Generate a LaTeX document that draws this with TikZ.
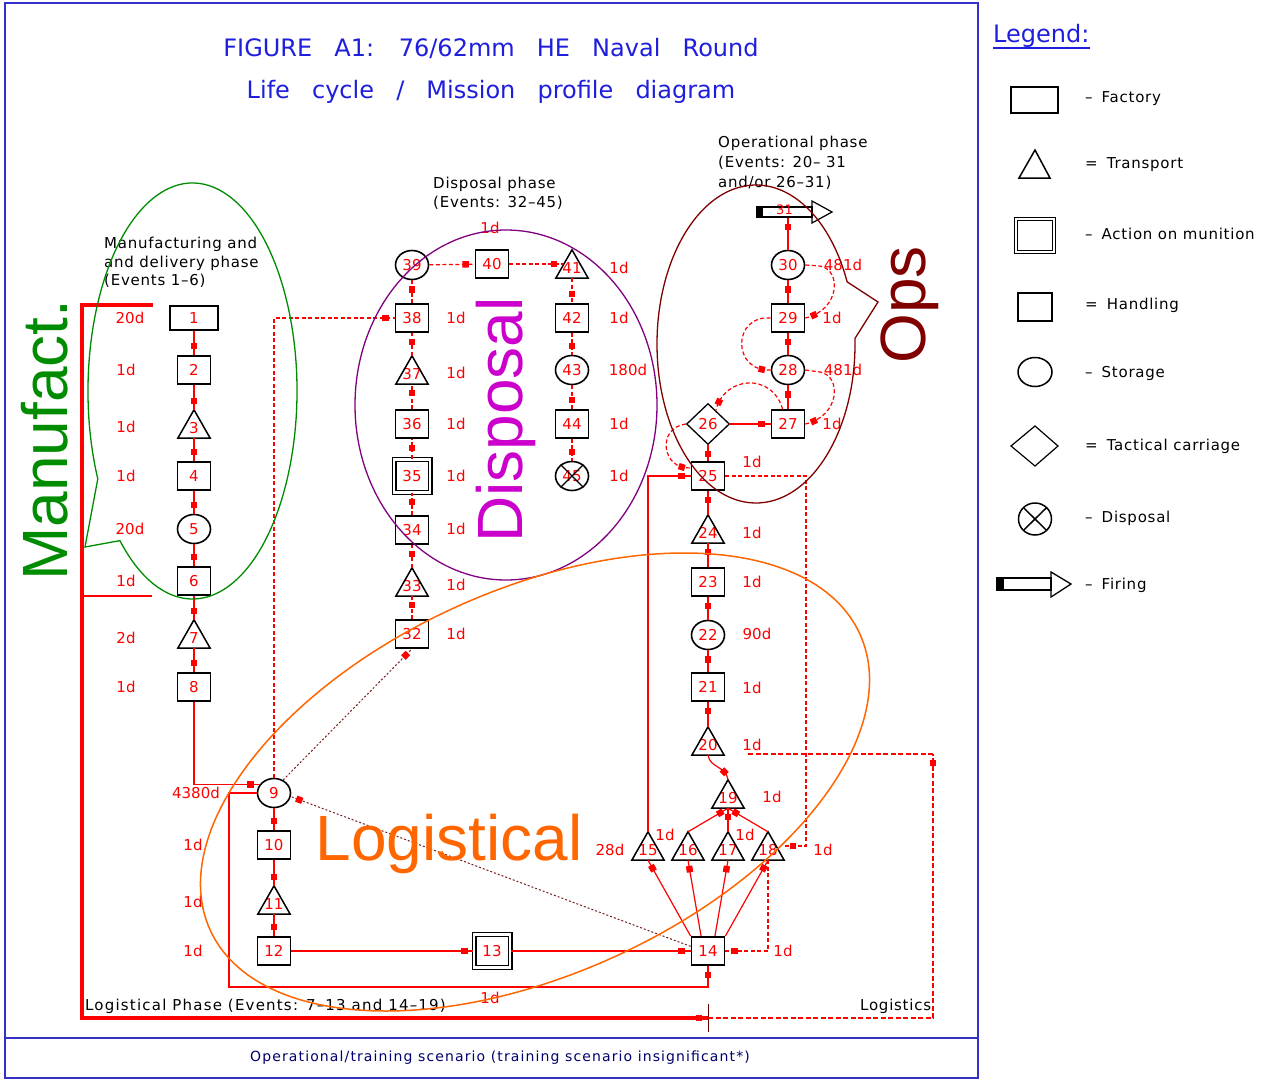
\documentclass[tikz,border=0pt]{standalone}
\usepackage{fontspec}
\setmainfont{DejaVu Sans}
\newfontfamily\arialf{Liberation Sans}
\newfontfamily\titlef[WordSpace=2.9]{DejaVu Sans}
\newfontfamily\cadf[LetterSpace=5]{DejaVu Sans}
\newfontfamily\cadw[LetterSpace=8]{DejaVu Sans}
\usetikzlibrary{shapes.geometric,decorations.markings}
\definecolor{frameblue}{RGB}{50,50,200}
\definecolor{titleblue}{RGB}{30,30,220}
\definecolor{mgreen}{RGB}{0,140,0}
\definecolor{dmag}{RGB}{204,0,204}
\definecolor{purp}{RGB}{128,0,128}
\definecolor{maroonc}{RGB}{128,0,0}
\definecolor{orng}{RGB}{255,102,0}
\definecolor{dotc}{RGB}{120,30,30}
\definecolor{navyc}{RGB}{0,0,110}
\begin{document}
\begin{tikzpicture}[x=1pt,y=-1pt,
  cad/.style={font=\fontsize{15}{18}\selectfont},
  num/.style={cad, text=red},
  box/.style={draw=black, line width=1.7pt, rectangle, minimum width=33, minimum height=28, inner sep=0, num},
  fac/.style={box, minimum width=48, minimum height=24},
  tri/.style={rectangle, minimum width=32, minimum height=28, inner sep=0, num, text height=18pt, text depth=0pt},
  sto/.style={ellipse, draw=black, line width=1.6pt, minimum width=33, minimum height=29, inner sep=0, num},
  act/.style={box, double, double distance=2.2pt, line width=1.4pt, minimum width=36, minimum height=33},
  dia/.style={diamond, draw=black, line width=1.3pt, minimum width=43, minimum height=41, inner sep=0, num},
  mk/.style={postaction=decorate, decoration={markings, mark=at position -9pt with {\fill[red] (-3.2,-3.2) rectangle (3.2,3.2);}}},
  conn/.style={draw=red, line width=1.2pt, mk},
  dconn/.style={conn, dash pattern=on 4pt off 2.5pt},
  dots/.style={draw=dotc, line width=1pt, dash pattern=on 2pt off 2pt, mk},
  big/.style={font=\arialf\fontsize{64}{64}\selectfont, inner sep=0},
  legt/.style={anchor=west, font=\cadf\fontsize{15}{18}\selectfont, inner sep=0},
  shp/.style={draw=black, line width=1.5pt}
]
\useasboundingbox (0,0) rectangle (1277,1081);
\fill[white] (0,0) rectangle (1277,1081);

% frame
\draw[frameblue, line width=2] (5,3) rectangle (978,1078);
\draw[frameblue, line width=2] (5,1038) -- (978,1038);

% titles
\node[text=titleblue, font=\titlef\fontsize{24}{24}\selectfont] (t1) at (491,48) {FIGURE A1: 76/62mm HE Naval Round};
\node[text=titleblue, font=\titlef\fontsize{24}{24}\selectfont] (t2) at (491,92) {Life cycle / Mission profile diagram};
\node[text=navyc, font=\cadw\fontsize{14}{14}\selectfont] (foot) at (500,1058) {Operational/training scenario (training scenario insignificant*)};

% phase texts
\node[anchor=north west, align=left, inner sep=0, font=\cadf\fontsize{15}{18.5}\selectfont] (ph1) at (104,237) {Manufacturing and\\and delivery phase\\(Events 1–6)};
\node[anchor=north west, align=left, inner sep=0, font=\cadf\fontsize{15}{18.5}\selectfont] (ph2) at (433,177) {Disposal phase\\(Events: 32–45)};
\node[anchor=north west, align=left, inner sep=0, font=\cadf\fontsize{15}{20}\selectfont] (ph3) at (718,136) {Operational phase\\(Events: 20– 31\\and/or 26–31)};
\node[anchor=base west, inner sep=0, font=\cadw\fontsize{15}{18}\selectfont] (ph4) at (85,1010) {Logistical Phase (Events: 7–13 and 14–19)};
\node[anchor=base west, inner sep=0, font=\cadf\fontsize{15}{18}\selectfont] (ph5) at (860,1010) {Logistics};

% manufacturing column
\node[fac] (n1) at (194,318) {1};
\node[box] (n2) at (194,370) {2};
\node[tri] (n3) at (194,424) {3};
\node[box] (n4) at (194,476) {4};
\node[sto] (n5) at (194,529) {5};
\node[box] (n6) at (194,581) {6};
\node[tri] (n7) at (194,634) {7};
\node[box] (n8) at (194,687) {8};
% logistical
\node[sto] (n9) at (274,793) {9};
\node[box] (n10) at (274,845) {10};
\node[tri] (n11) at (274,900) {11};
\node[box] (n12) at (274,951) {12};
\node[act] (n13) at (492,951) {13};
\node[box] (n14) at (708,951) {14};
\node[tri] (n15) at (648,846) {15};
\node[tri] (n16) at (688,846) {16};
\node[tri] (n17) at (728,846) {17};
\node[tri] (n18) at (768,846) {18};
\node[tri] (n19) at (728,794) {19};
% operational
\node[tri] (n20) at (708,741) {20};
\node[box] (n21) at (708,687) {21};
\node[sto] (n22) at (708,635) {22};
\node[box] (n23) at (708,582) {23};
\node[tri] (n24) at (708,529) {24};
\node[box] (n25) at (708,476) {25};
\node[dia] (n26) at (708,424) {26};
\node[box] (n27) at (788,424) {27};
\node[sto] (n28) at (788,370) {28};
\node[box] (n29) at (788,318) {29};
\node[sto] (n30) at (788,265) {30};
\node[draw=black, line width=1.4pt, minimum width=55, minimum height=10, inner sep=0, text=red, font=\fontsize{13}{13}\selectfont, text height=5pt, text depth=0pt] (n31) at (784.5,212) {31};
\fill[black] (757,207) rectangle (763,217);
\draw[shp, line width=1.2pt] (812,201) -- (832,212) -- (812,223) -- cycle;
% disposal
\node[box] (n32) at (412,634) {32};
\node[tri] (n33) at (412,582) {33};
\node[box] (n34) at (412,530) {34};
\node[act] (n35) at (412,476) {35};
\node[box] (n36) at (412,424) {36};
\node[tri] (n37) at (412,370) {37};
\node[box] (n38) at (412,318) {38};
\node[sto] (n39) at (412,265) {39};
\node[box] (n40) at (492,264) {40};
\node[tri] (n41) at (572,264) {41};
\node[box] (n42) at (572,318) {42};
\node[sto] (n43) at (572,370) {43};
\node[box] (n44) at (572,424) {44};
\node[sto] (n45) at (572,476) {45};
\draw[black, line width=1.3pt] (n45.45) -- (n45.225) (n45.135) -- (n45.315);

\foreach \t in {n3,n7,n11,n15,n16,n17,n18,n19,n20,n24,n33,n37,n41}
  \draw[shp, line join=miter] (\t.south west) -- (\t.north) -- (\t.south east) -- cycle;

% connectors: manufacturing
\draw[conn] (n1) -- (n2);
\draw[conn] (n2) -- (n3.north);
\draw[conn] (n3.south) -- (n4);
\draw[conn] (n4) -- (n5);
\draw[conn] (n5) -- (n6);
\draw[conn] (n6) -- (n7.north);
\draw[conn] (n7.south) -- (n8);
\draw[conn] (n8.south) |- (n9.150);
% logistical
\draw[conn] (n9) -- (n10);
\draw[conn] (n10) -- (n11.north);
\draw[conn] (n11.south) -- (n12);
\draw[conn] (n12) -- (n13);
\draw[conn] (n13) -- (n14);
\draw[conn] (n9.west) -- (229,793) |- (n14.south |- 0,987) -- (n14.south);
\draw[conn] (n14.north west) -- (n15.south);
\draw[conn] (n14.115) -- (n16.south);
\draw[conn] (n14.65) -- (n17.south);
\draw[conn] (n14.north east) -- (n18.south);
\draw[conn] (n16.north) -- (n19.south);
\draw[conn] (n17.north) -- (n19.south);
\draw[conn] (n18.north) -- (n19.south);
\draw[conn] (n15.north) |- (n25.west);
\draw[conn] (n20.south) .. controls (710,768) and (726,766) .. (n19.north);
\draw[dconn] (n18.south) |- (n14.east);
\draw[dconn] (n25.east) -- (806,476) |- (n18.east);
\draw[dconn] (n9.north) |- (n38.west);
\draw[dots] (n9.55) -- (n32.south);
\draw[dots] (n14.165) -- (n9.-12);
% operational
\draw[conn] (n20.north) -- (n21);
\draw[conn] (n21) -- (n22);
\draw[conn] (n22) -- (n23);
\draw[conn] (n23) -- (n24.south);
\draw[conn] (n24.north) -- (n25);
\draw[conn] (n25) -- (n26);
\draw[conn] (n26) -- (n27);
\draw[conn] (n27) -- (n28);
\draw[conn] (n28) -- (n29);
\draw[conn] (n29) -- (n30);
\draw[conn] (n30.north) -- (n30.north |- n31.south);
\draw[dconn] (n30.east) -- (820,266) .. controls (842,270) and (840,310) .. (n29.east);
\draw[dconn] (n29.west) .. controls (732,315) and (732,372) .. (n28.west);
\draw[dconn] (n28.east) -- (820,372) .. controls (842,376) and (840,416) .. (n27.east);
\draw[dconn] (n27.110) .. controls (772,372) and (724,376) .. (n26.60);
\draw[dconn] (n26.west) .. controls (656,428) and (662,470) .. (n25.155);
% disposal
\draw[dconn] (n32) -- (n33.south);
\draw[dconn] (n33.north) -- (n34);
\draw[dconn] (n34) -- (n35);
\draw[dconn] (n35) -- (n36);
\draw[dconn] (n36) -- (n37.south);
\draw[dconn] (n37.north) -- (n38);
\draw[dconn] (n38) -- (n39);
\draw[dconn] (n39) -- (n40);
\draw[dconn] (n40) -- ([xshift=7pt]n41.west);
\draw[dconn] (n41.south) -- (n42);
\draw[dconn] (n42) -- (n43);
\draw[dconn] (n43) -- (n44);
\draw[dconn] (n44) -- (n45);

% big red frame lines
\coordinate (bkTop) at (153,305);
\coordinate (bkBot) at (152,596);
\coordinate (lgMid) at (708,1018);
\coordinate (lgEnd) at (748,754);
\draw[red, line width=3.2pt, mk] (bkTop) -- (82,305) -- (82,1018) -- (lgMid);
\draw[red, line width=1.3pt] (bkBot) -- (82,596);
\draw[black!60!red, line width=1pt] (708,1004) -- (708,1032);
\draw[red, line width=1.9pt, dash pattern=on 5pt off 2.5pt, mk] (lgMid) -- (933,1018) -- (933,754);
\draw[red, line width=1.9pt, dash pattern=on 5pt off 2.5pt] (933,754) -- (lgEnd);

% durations
\foreach \x/\y/\t [count=\i] in {
130/318/20d, 126/370/1d, 126/427/1d, 126/476/1d, 130/529/20d, 126/581/1d, 126/638/2d, 126/687/1d,
196/793/4380d, 193/845/1d, 193/902/1d, 193/951/1d, 490/998/1d,
456/318/1d, 456/373/1d, 456/424/1d, 456/476/1d, 456/529/1d, 456/585/1d, 456/634/1d,
490/228/1d, 619/268/1d, 619/318/1d, 628/370/180d, 619/424/1d, 619/476/1d,
752/462/1d, 752/533/1d, 752/582/1d, 757/634/90d, 752/688/1d, 752/745/1d, 772/797/1d,
610/850/28d, 665/835/1d, 745/835/1d, 823/850/1d, 783/951/1d,
843/265/481d, 832/318/1d, 843/370/481d, 832/424/1d}
  \node[num, inner sep=0] (dur\i) at (\x,\y) {\t};

% overlays
\draw[mgreen, line width=1.3pt] (192.5,391) ++(155:104.5 and 208) arc[start angle=155, end angle=494, x radius=104.5, y radius=208] -- (85,547) -- cycle;
\draw[purp, line width=1.3pt] (506,405) ellipse [x radius=151, y radius=175];
\draw[maroonc, line width=1.3pt] (756,344) ++(-2:99 and 159) arc[start angle=-2, end angle=337, x radius=99, y radius=159] -- (878,302) -- cycle;
\draw[orng, line width=1.5pt, rotate around={24.5:(535,782)}] (535,782) ellipse [x radius=357, y radius=192];
\node[big, rotate=90, anchor=base, text=mgreen] (lblM) at (67,440) {Manufact.};
\node[big, rotate=90, anchor=base, text=dmag] (lblD) at (522,420) {Disposal};
\node[big, rotate=90, anchor=base, text=maroonc] (lblO) at (925,305) {Ops};
\node[big, anchor=base, text=orng] (lblL) at (449,860) {Logistical};

% legend
\node[anchor=base west, inner sep=0, text=titleblue, font=\fontsize{24}{24}\selectfont] (leg) at (993,43) {Legend:};
\draw[titleblue, line width=1.2pt] (993,48) -- (1090,48);
\draw[shp] (1011,87) rectangle (1058,113);
\draw[shp] (1035,150) -- (1050,178) -- (1019,178) -- cycle;
\draw[shp, double, double distance=2pt, line width=1.3pt] (1016,219) rectangle (1054,252);
\draw[shp] (1018,293) rectangle (1052,321);
\draw[shp] (1035,372) ellipse [x radius=17, y radius=14.5];
\draw[shp, line width=1.2pt] (1011,446) -- (1035,426) -- (1058,446) -- (1035,466) -- cycle;
\draw[shp] (1035,519) ellipse [x radius=16.5, y radius=16];
\draw[shp] (1023.5,507.7) -- (1046.5,530.3) (1023.5,530.3) -- (1046.5,507.7);
\draw[shp, line width=1.3pt] (997,578) rectangle (1051,590);
\fill[black] (997,578) rectangle (1004,590);
\draw[shp, line width=1.3pt] (1051,572) -- (1071,584) -- (1051,597) -- cycle;
\node[legt] (lg1) at (1085,99) {–\hspace{9pt}Factory};
\node[legt] (lg2) at (1085,165) {=\hspace{9pt}Transport};
\node[legt] (lg3) at (1085,234) {–\hspace{9pt}Action on munition};
\node[legt] (lg4) at (1085,305) {=\hspace{9pt}Handling};
\node[legt] (lg5) at (1085,373) {–\hspace{9pt}Storage};
\node[legt] (lg6) at (1085,446) {=\hspace{9pt}Tactical carriage};
\node[legt] (lg7) at (1085,518) {–\hspace{9pt}Disposal};
\node[legt] (lg8) at (1085,585) {–\hspace{9pt}Firing};
\end{tikzpicture}
\end{document}
